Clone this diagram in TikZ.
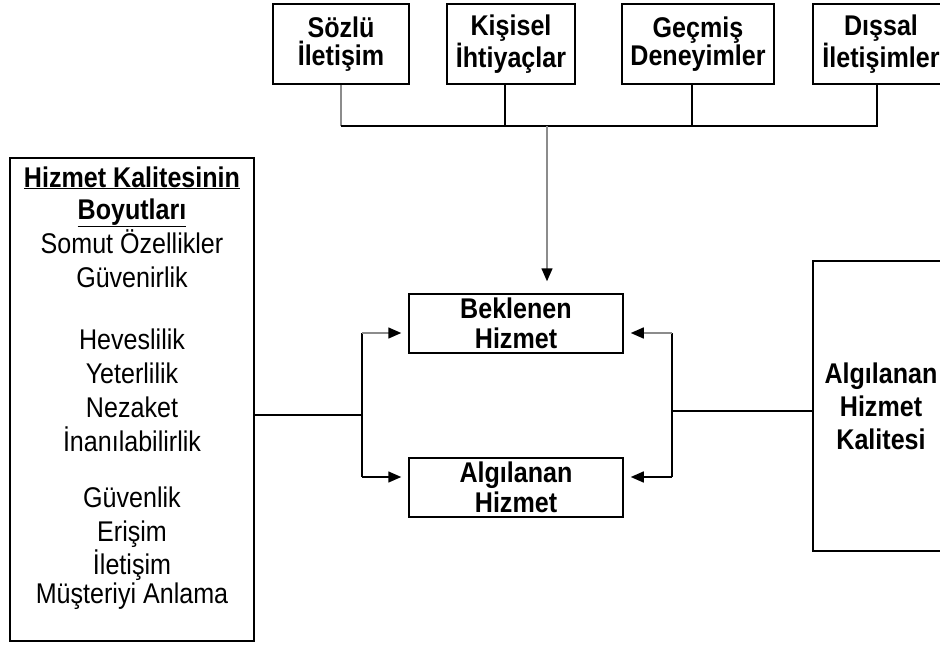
\documentclass[tikz,border=0pt]{standalone}
\usepackage{fontspec}
\setmainfont{Liberation Sans}[FakeStretch=0.88]
\usetikzlibrary{arrows.meta}
\begin{document}
\begin{tikzpicture}[x=1pt,y=-1pt,
  conn/.style={line width=1.5pt,black},
  faint/.style={black!45},
  tip/.style={-{Triangle[length=13pt,width=11pt,color=black]}},
  frame/.style={draw,line width=1.5pt,inner sep=0pt,align=center},
  topbox/.style={frame,minimum height=80pt,font=\bfseries\fontsize{28.5}{28}\selectfont},
  midbox/.style={frame,minimum width=214pt,minimum height=59pt,font=\bfseries\fontsize{28.5}{30}\selectfont},
  bigbox/.style={frame,minimum width=136pt,minimum height=290pt,font=\bfseries\fontsize{28.5}{33}\selectfont},
  item/.style={anchor=base,inner sep=0pt,font=\fontsize{28.5}{30}\selectfont},
  head/.style={item,font=\bfseries\fontsize{28.5}{30}\selectfont}
]
\useasboundingbox (0,0) rectangle (940,646);
\clip (0,0) rectangle (940,646);

% sources of expectation
\node[topbox,minimum width=136pt] (s1) at (341,44) {Sözlü\\İletişim};
\node[topbox,minimum width=128pt] (s2) at (511,44) {Kişisel\\İhtiyaçlar};
\node[topbox,minimum width=152pt] (s3) at (698,44) {Geçmiş\\Deneyimler};
\node[topbox,minimum width=136pt] (s4) at (881,44) {Dışsal\\İletişimler};

% expected / perceived service
\node[midbox] (bek) at (516,323.5) {Beklenen\\Hizmet};
\node[midbox] (alg) at (516,487.5) {Algılanan\\Hizmet};

% perceived service quality
\node[bigbox] (apq) at (881,406) {Algılanan\\Hizmet\\Kalitesi};

% dimensions of service quality
\node[frame,minimum width=244pt,minimum height=483pt] (dim) at (132,399.5) {};
\node[head] (d1) at (132,187) {\underline{Hizmet Kalitesinin}};
\node[head] (d2) at (132,219) {\underline{Boyutları}};
\node[item] (d3) at (132,253) {Somut Özellikler};
\node[item] (d4) at (132,287) {Güvenirlik};
\node[item] (d5) at (132,349) {Heveslilik};
\node[item] (d6) at (132,383) {Yeterlilik};
\node[item] (d7) at (132,417) {Nezaket};
\node[item] (d8) at (132,451) {İnanılabilirlik};
\node[item] (d9) at (132,507) {Güvenlik};
\node[item] (d10) at (132,541) {Erişim};
\node[item] (d11) at (132,574) {İletişim};
\node[item] (d12) at (132,603) {Müşteriyi Anlama};

% bus from the four sources
\coordinate (bus) at (547,126);
\draw[conn,faint] (s1.south) -- (s1.south |- bus);
\draw[conn] (s1.south |- bus) -- ([xshift=-4pt]s4.south |- bus) -- ([xshift=-4pt]s4.south);
\draw[conn] ([xshift=-6pt]s2.south) -- ([xshift=-6pt]s2.south |- bus);
\draw[conn] ([xshift=-6pt]s3.south) -- ([xshift=-6pt]s3.south |- bus);
\coordinate (bekTop) at ([yshift=12pt]bek.north);
\draw[conn,faint,tip] (bus) -- (bus |- bekTop);

% left fork
\coordinate (lh) at (362,415);
\coordinate (bekL) at ([xshift=-7pt,yshift=-9.5pt]bek.west);
\coordinate (algL) at ([xshift=-7pt,yshift=10.5pt]alg.west);
\draw[conn] (dim.east |- lh) -- (lh);
\draw[conn] (lh |- bekL) -- (lh |- algL);
\draw[conn,faint,tip] (lh |- bekL) -- (bekL);
\draw[conn,tip] (lh |- algL) -- (algL);

% right fork
\coordinate (rh) at (672,411);
\coordinate (bekR) at ([xshift=7pt,yshift=-9.5pt]bek.east);
\coordinate (algR) at ([xshift=7pt,yshift=10.5pt]alg.east);
\draw[conn] (apq.west |- rh) -- (rh);
\draw[conn] (rh |- bekR) -- (rh |- algR);
\draw[conn,faint,tip] (rh |- bekR) -- (bekR);
\draw[conn,tip] (rh |- algR) -- (algR);
\end{tikzpicture}
\end{document}
